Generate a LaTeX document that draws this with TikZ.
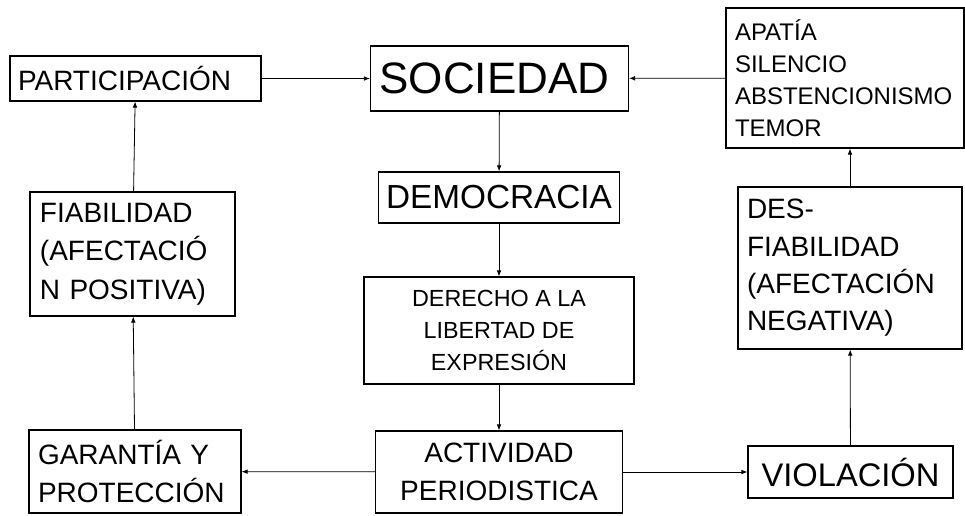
\documentclass[tikz,border=0pt]{standalone}
\usepackage{fontspec}
\setmainfont{Liberation Sans}
\usepackage{tikz}
\usetikzlibrary{arrows.meta}

\begin{document}
\begin{tikzpicture}[x=0.75pt, y=-0.75pt,
  caja/.style={draw, line width=0.9pt, inner ysep=0pt},
  cajaizq/.style={caja, align=left},
  cajacen/.style={caja, align=center, inner xsep=0pt},
  flecha/.style={-{Latex[length=4.5pt,width=3.5pt]}, line width=0.6pt}]
\useasboundingbox (0,0) rectangle (965,515);

% columna central
\node[cajaizq, inner xsep=6.75pt, text width=180pt, minimum height=48.75pt,
  font=\fontsize{33}{38}\selectfont] (soc) at (499.5,78.5) {SOCIEDAD};
\node[cajacen, minimum width=180.75pt, minimum height=38.25pt,
  font=\fontsize{25}{30}\selectfont] (demo) at (499,197.5) {DEMOCRACIA};
\node[cajacen, minimum width=202.5pt, minimum height=80.25pt,
  font=\fontsize{17.5}{24}\selectfont] (derecho) at (499,330.5)
  {DERECHO A LA\\LIBERTAD DE\\EXPRESIÓN};
\node[cajacen, minimum width=185.25pt, minimum height=61.5pt,
  font=\fontsize{21}{29}\selectfont] (activ) at (499,472)
  {ACTIVIDAD\\PERIODISTICA};

% rama izquierda
\node[cajaizq, inner xsep=6.75pt, text width=145.5pt, minimum height=62.25pt,
  font=\fontsize{21}{29}\selectfont] (garan) at (135,471.5)
  {GARANTÍA Y\\PROTECCIÓN};
\node[cajaizq, inner xsep=7.5pt, text width=138.75pt, minimum height=93pt,
  font=\fontsize{21}{29}\selectfont] (fiab) at (132.5,254)
  {FIABILIDAD\\(AFECTACIÓ\\N POSITIVA)};
\node[cajaizq, inner xsep=6pt, text width=176.25pt, minimum height=33.75pt,
  font=\fontsize{21}{26}\selectfont] (partic) at (135.5,78.5) {PARTICIPACIÓN};

% rama derecha
\node[cajacen, minimum width=153.75pt, minimum height=39pt,
  font=\fontsize{24.5}{29}\selectfont] (viol) at (850.5,472) {VIOLACIÓN};
\node[cajaizq, inner xsep=6.75pt, text width=154.5pt, minimum height=121.5pt,
  font=\fontsize{21}{28}\selectfont] (desf) at (850,268)
  {DES-\\FIABILIDAD\\(AFECTACIÓN\\NEGATIVA)};
\node[cajaizq, inner xsep=6.75pt, text width=165pt, minimum height=105pt,
  font=\fontsize{18}{24}\selectfont] (apat) at (845,78)
  {APATÍA\\SILENCIO\\ABSTENCIONISMO\\TEMOR};

% flechas
\draw[flecha] (soc) -- (demo);
\draw[flecha] (demo) -- (derecho);
\draw[flecha] (derecho) -- (activ);
\draw[flecha] (activ) -- (garan);
\draw[flecha] (activ) -- (viol);
\draw[flecha] (garan) -- (fiab);
\draw[flecha] (fiab) -- (partic);
\draw[flecha] (partic) -- (soc);
\draw[flecha] (viol) -- (desf);
\draw[flecha] (desf.north) -- (desf.north |- apat.south);
\draw[flecha] (apat) -- (soc);
\end{tikzpicture}
\end{document}
